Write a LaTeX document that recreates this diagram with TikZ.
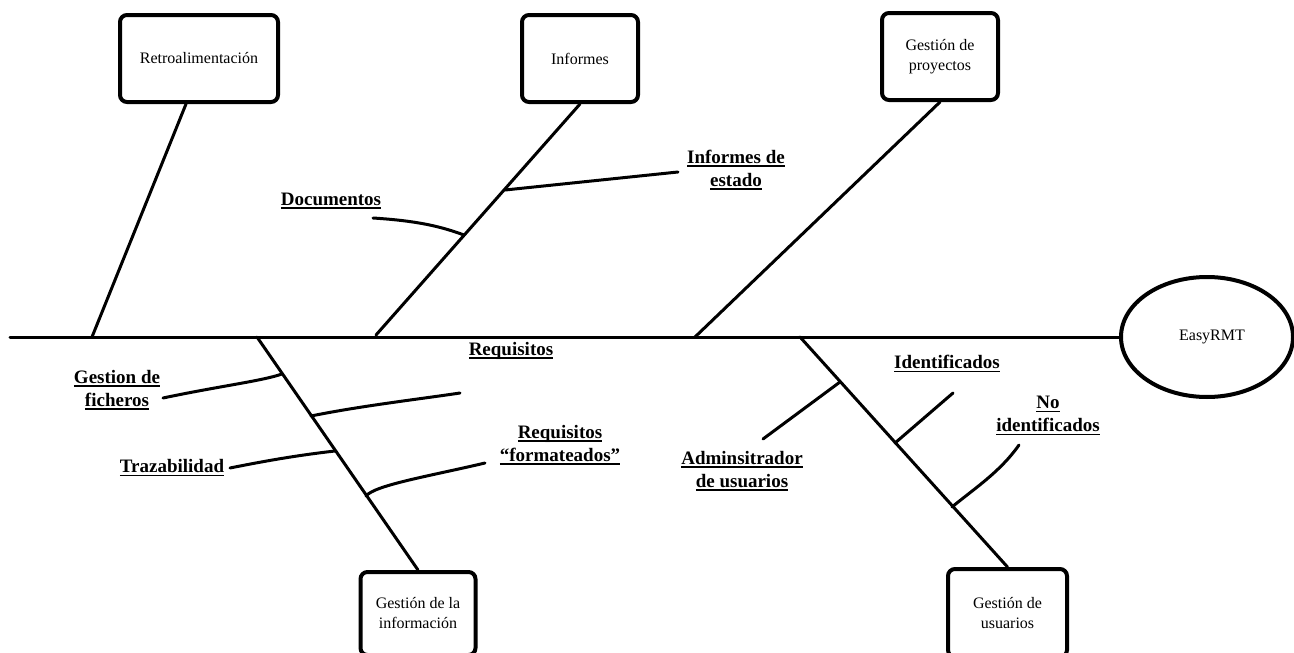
\documentclass[tikz,border=0pt]{standalone}
\usepackage{fontspec}
\setmainfont{Liberation Serif}
\usetikzlibrary{calc,shapes.geometric}
\newcommand\ulx[1]{\leavevmode\setbox0=\hbox{#1}\rlap{\rule[-3.5pt]{\wd0}{1.6pt}}\box0}
\begin{document}
\begin{tikzpicture}[x=1pt,y=-1pt,
  branch/.style={line width=3pt, line cap=round},
  twig/.style={line width=3pt, line cap=round},
  box/.style={draw, line width=4pt, rounded corners=7pt, align=center,
    font=\fontsize{16}{20}\selectfont, inner sep=0pt},
  lbl/.style={align=center, font=\bfseries\fontsize{19}{23}\selectfont, inner sep=1pt}]
\useasboundingbox (0,0) rectangle (1294,653);

% head and boxes
\node[draw, ellipse, line width=4pt, minimum width=172, minimum height=120, inner sep=0pt,
  font=\fontsize{16}{20}\selectfont] (easy) at (1207,337) {\hspace*{10pt}EasyRMT};
\node[box, minimum width=158, minimum height=87] (retro) at (199,58.5) {Retroalimentación};
\node[box, minimum width=116, minimum height=87] (inf) at (580,58.5) {Informes};
\node[box, minimum width=116, minimum height=87] (proy) at (940,56.5) {Gestión de\\proyectos};
\node[box, minimum width=115, minimum height=83] (ginf) at (418,613.5) {Gestión de la\\información};
\node[box, minimum width=119, minimum height=88] (gusu) at (1007.5,613) {Gestión de\\usuarios};

% labels
\node[lbl] (doc) at (331,201) {\ulx{Documentos}};
\node[lbl] (infe) at (736,170) {\ulx{Informes de}\\\ulx{estado}};
\node[lbl] (gf) at (117,390) {\ulx{Gestion de}\\\ulx{ficheros}};
\node[lbl] (req) at (511,351) {\ulx{Requisitos}};
\node[lbl] (traz) at (172,468) {\ulx{Trazabilidad}};
\node[lbl] (reqf) at (560,445) {\ulx{Requisitos}\\\ulx{“formateados”}};
\node[lbl] (adm) at (742,471) {\ulx{Adminsitrador}\\\ulx{de usuarios}};
\node[lbl] (ide) at (947,364) {\ulx{Identificados}};
\node[lbl] (noi) at (1048,416) {\ulx{No}\\\ulx{identificados}};

% spine
\coordinate (tail) at (10,337);
\draw[branch] (tail) -- (easy.west);

% main branches
\coordinate (s1) at (92,337);
\coordinate (s2) at (376,335);
\coordinate (s3) at (695,337);
\coordinate (s4) at (257,337);
\coordinate (s5) at (800,337);
\draw[branch] ($(retro.south)+(-13,0)$) -- (s1);
\draw[branch] (inf.south) -- (s2);
\draw[branch] (proy.south) -- (s3);
\draw[branch] (s4) -- (ginf.north);
\draw[branch] (s5) -- (gusu.north);

% attachment points
\coordinate (aDoc) at (464,235);
\coordinate (aInfe) at (505,190);
\coordinate (aGf) at (282,374);
\coordinate (aReq) at (311,416);
\coordinate (aTraz) at (335,451);
\coordinate (aReqf) at (366,496);
\coordinate (aAdm) at (840,382);
\coordinate (aIde) at (895,443);
\coordinate (aNoi) at (952,507);

% label-side ends
\coordinate (eDoc) at (373,218);
\coordinate (eInfe) at (678,172);
\coordinate (eGf) at (163,398);
\coordinate (eReq) at (460,393);
\coordinate (eTraz) at (230,468);
\coordinate (eReqf) at (485,463);
\coordinate (eAdm) at (763,439);
\coordinate (eIde) at (953,393);
\coordinate (eNoi) at (1019,445);

% twigs
\draw[twig] (eDoc) .. controls (420,221) and (442,227) .. (aDoc);
\draw[twig] (aInfe) -- (eInfe);
\draw[twig] (eGf) .. controls (220,386) and (262,381) .. (aGf);
\draw[twig] (aReq) .. controls (360,406) and (420,399) .. (eReq);
\draw[twig] (eTraz) .. controls (270,460) and (300,455) .. (aTraz);
\draw[twig] (aReqf) .. controls (375,485) and (430,476) .. (eReqf);
\draw[twig] (eAdm) -- (aAdm);
\draw[twig] (aIde) -- (eIde);
\draw[twig] (aNoi) .. controls (975,488) and (1000,472) .. (eNoi);
\end{tikzpicture}
\end{document}
